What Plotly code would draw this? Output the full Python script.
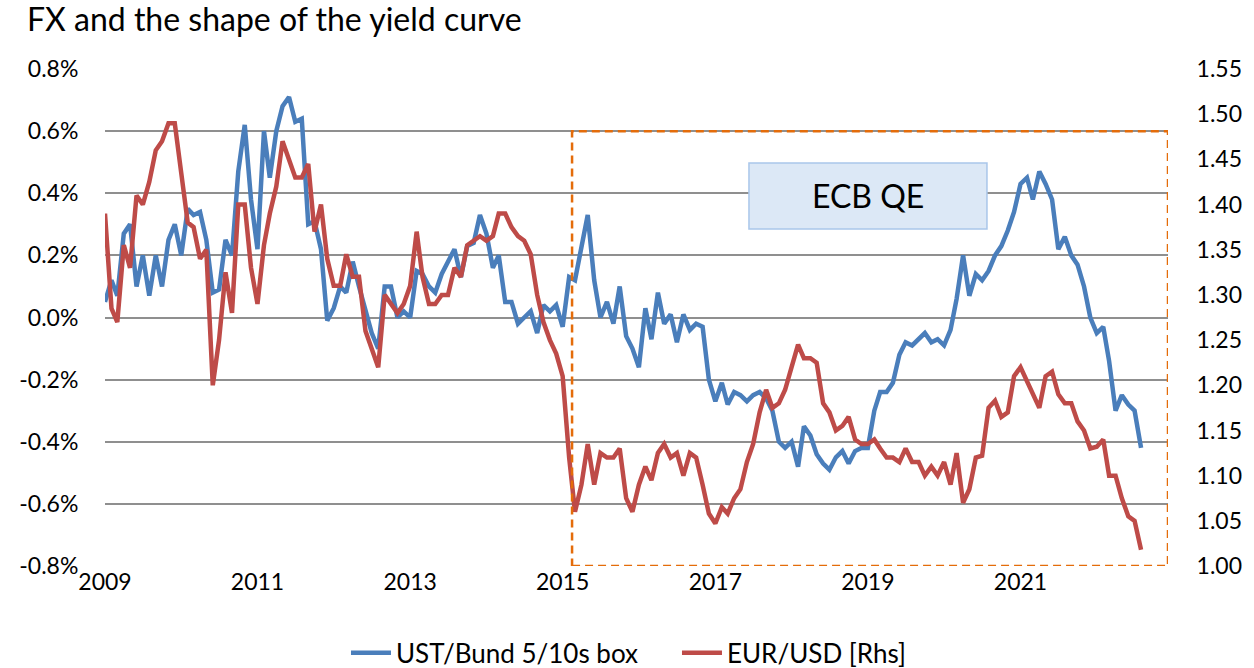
import pandas as pd
import plotly.graph_objects as go

# Monthly observations starting Jan 2009
ust_bund_box = [
    0.05, 0.12, 0.07, 0.27, 0.30, 0.10, 0.20, 0.07, 0.20, 0.10, 0.25, 0.30,
    0.20, 0.35, 0.33, 0.34, 0.25, 0.08, 0.09, 0.25, 0.20, 0.47, 0.62, 0.38,
    0.22, 0.60, 0.45, 0.60, 0.68, 0.71, 0.63, 0.64, 0.30, 0.31, 0.22, -0.01,
    0.03, 0.10, 0.08, 0.18, 0.10, 0.03, -0.05, -0.10, 0.10, 0.10, 0.00, 0.02,
    0.00, 0.15, 0.14, 0.10, 0.08, 0.14, 0.18, 0.22, 0.13, 0.23, 0.24, 0.33,
    0.27, 0.16, 0.20, 0.05, 0.05, -0.02, 0.00, 0.02, -0.05, 0.04, 0.02, 0.04,
    -0.03, 0.13, 0.12, 0.22, 0.33, 0.12, 0.00, 0.05, -0.02, 0.10, -0.06, -0.10,
    -0.16, 0.03, -0.07, 0.08, -0.02, 0.01, -0.08, 0.01, -0.04, -0.02, -0.03, -0.20,
    -0.27, -0.21, -0.28, -0.24, -0.25, -0.27, -0.25, -0.24, -0.26, -0.30, -0.40, -0.42,
    -0.40, -0.48, -0.35, -0.38, -0.44, -0.47, -0.49, -0.45, -0.43, -0.47, -0.43, -0.42,
    -0.42, -0.30, -0.24, -0.24, -0.21, -0.12, -0.08, -0.09, -0.07, -0.05, -0.08, -0.07,
    -0.09, -0.04, 0.06, 0.20, 0.07, 0.14, 0.12, 0.15, 0.20, 0.23, 0.28, 0.34,
    0.43, 0.45, 0.38, 0.47, 0.43, 0.38, 0.22, 0.26, 0.20, 0.17, 0.10, 0.00,
    -0.05, -0.03, -0.14, -0.30, -0.25, -0.28, -0.30, -0.42,
]

eur_usd = [
    1.390, 1.285, 1.270, 1.355, 1.330, 1.410, 1.400, 1.425, 1.460, 1.470, 1.490, 1.490,
    1.435, 1.380, 1.375, 1.340, 1.350, 1.200, 1.250, 1.325, 1.280, 1.400, 1.400, 1.330,
    1.290, 1.355, 1.390, 1.420, 1.470, 1.450, 1.430, 1.430, 1.445, 1.370, 1.400, 1.340,
    1.310, 1.310, 1.345, 1.320, 1.320, 1.260, 1.240, 1.220, 1.300, 1.290, 1.280, 1.290,
    1.310, 1.370, 1.320, 1.290, 1.290, 1.300, 1.300, 1.330, 1.320, 1.355, 1.360, 1.365,
    1.360, 1.365, 1.390, 1.390, 1.375, 1.365, 1.360, 1.345, 1.300, 1.270, 1.250, 1.235,
    1.210, 1.120, 1.060, 1.090, 1.135, 1.090, 1.125, 1.120, 1.120, 1.130, 1.075, 1.060,
    1.090, 1.110, 1.095, 1.125, 1.135, 1.120, 1.125, 1.100, 1.125, 1.120, 1.090, 1.058,
    1.047, 1.065, 1.058, 1.075, 1.085, 1.115, 1.135, 1.170, 1.195, 1.175, 1.180, 1.195,
    1.220, 1.245, 1.230, 1.230, 1.225, 1.180, 1.170, 1.150, 1.155, 1.165, 1.140, 1.135,
    1.135, 1.140, 1.130, 1.120, 1.120, 1.115, 1.130, 1.115, 1.115, 1.100, 1.110, 1.100,
    1.115, 1.090, 1.125, 1.070, 1.085, 1.120, 1.122, 1.175, 1.183, 1.165, 1.170, 1.210,
    1.220, 1.205, 1.190, 1.175, 1.210, 1.215, 1.190, 1.180, 1.180, 1.160, 1.150, 1.130,
    1.132, 1.140, 1.100, 1.100, 1.075, 1.055, 1.050, 1.018,
]

dates = pd.date_range("2009-01-01", periods=len(ust_bund_box), freq="MS")

left_tick_values = [-0.8, -0.6, -0.4, -0.2, 0.0, 0.2, 0.4, 0.6, 0.8]
left_tick_labels = ["-0.8%", "-0.6%", "-0.4%", "-0.2%", "0.0%", "0.2%", "0.4%", "0.6%", "0.8%"]

series_names = ["UST/Bund 5/10s box", "EUR/USD [Rhs]"]
series_colors = ["#4A7EBB", "#BE4B48"]
qe_start = "2015-02-15"

FONT = "Lato"

fig = go.Figure()
fig.add_trace(go.Scatter(x=dates, y=ust_bund_box, name=series_names[0], mode="lines",
                         line=dict(color=series_colors[0], width=4.5), yaxis="y"))
fig.add_trace(go.Scatter(x=dates, y=eur_usd, name=series_names[1], mode="lines",
                         line=dict(color=series_colors[1], width=4.5), yaxis="y2"))

# ECB QE dashed box
fig.add_shape(type="rect", xref="x", yref="y", x0=qe_start, x1="2022-12-08", y0=-0.8, y1=0.6,
              line=dict(color="#E46C0A", width=2.5, dash="8px,5px"), fillcolor="rgba(0,0,0,0)",
              layer="above")
# ECB QE label box
fig.add_shape(type="rect", xref="paper", yref="paper", x0=0.6058, x1=0.8297, y0=0.678, y1=0.8109,
              line=dict(color="#A9C6EA", width=1.5), fillcolor="#DCE8F6", layer="above")
fig.add_annotation(xref="paper", yref="paper", x=0.7178, y=0.7445, text="ECB QE",
                   xanchor="center", yanchor="middle", align="center",
                   showarrow=False, font=dict(family=FONT, size=32, color="#000000"))

fig.update_layout(
    width=1254, height=668,
    margin=dict(l=105, r=86, t=69, b=102, autoexpand=False),
    paper_bgcolor="white", plot_bgcolor="white",
    font=dict(family=FONT, size=23, color="#000000"),
    title=dict(text="FX and the shape of the yield curve", xref="container", yref="container",
               x=0.0215, xanchor="left", y=0.97, yanchor="middle",
               font=dict(family=FONT, size=32, color="#000000")),
    showlegend=True,
    legend=dict(orientation="h", x=0.2267, xanchor="left", y=-0.175, yanchor="middle",
                font=dict(family=FONT, size=26), bgcolor="rgba(0,0,0,0)",
                itemwidth=40, entrywidth=276, entrywidthmode="pixels"),
    xaxis=dict(type="date", range=["2009-01-01", "2022-12-08"], tick0="2009-01-01", dtick="M24",
               tickformat="%Y", showgrid=False, zeroline=False, showline=False, ticks="",
               automargin=False),
    yaxis=dict(range=[-0.8, 0.8], tickmode="array", tickvals=left_tick_values,
               ticktext=left_tick_labels,
               showgrid=True, gridcolor="#8F8F8F", gridwidth=1.5, zeroline=False,
               showline=False, ticks="outside", ticklen=21, tickcolor="rgba(0,0,0,0)",
               automargin=False),
    yaxis2=dict(range=[1.0, 1.55], dtick=0.05, tickformat=".2f", overlaying="y", side="right",
                showgrid=False, zeroline=False, showline=False, ticks="outside", ticklen=23,
                tickcolor="rgba(0,0,0,0)", automargin=False),
)

fig.write_html("out.html", config={"displayModeBar": False},
               post_script="document.body.style.margin='0px';")
